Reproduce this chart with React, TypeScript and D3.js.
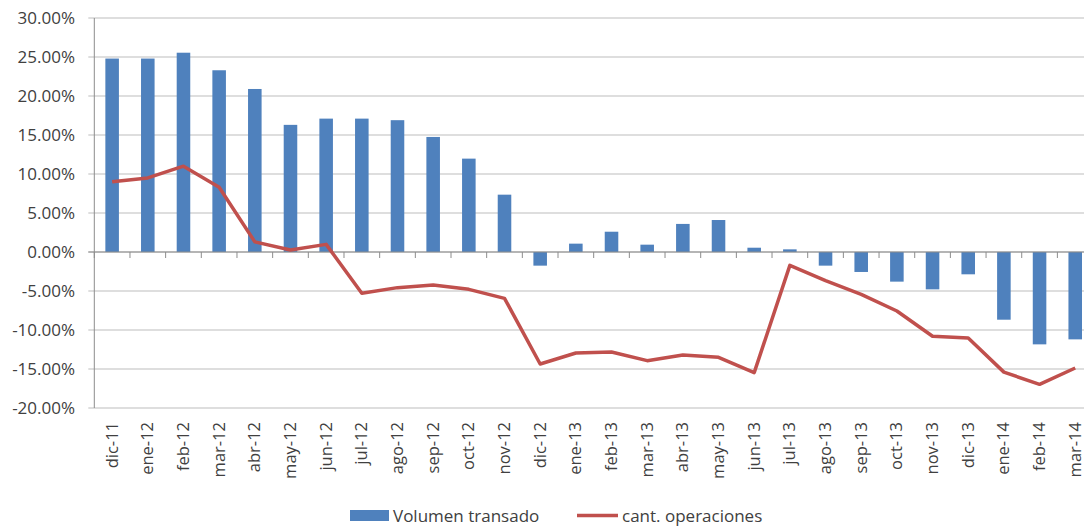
import { useEffect, useRef } from 'react';
import * as d3 from 'd3';

const MONTHS = [
  "dic-11", "ene-12", "feb-12", "mar-12", "abr-12", "may-12", "jun-12",
  "jul-12", "ago-12", "sep-12", "oct-12", "nov-12", "dic-12", "ene-13",
  "feb-13", "mar-13", "abr-13", "may-13", "jun-13", "jul-13", "ago-13",
  "sep-13", "oct-13", "nov-13", "dic-13", "ene-14", "feb-14", "mar-14",
];
// % variation
const VOLUMEN = [
  24.8, 24.8, 25.55, 23.3, 20.9, 16.3, 17.1,
  17.1, 16.9, 14.75, 11.97, 7.35, -1.75, 1.07,
  2.6, 0.94, 3.6, 4.1, 0.55, 0.34, -1.75,
  -2.56, -3.8, -4.79, -2.86, -8.68, -11.84, -11.2,
];
const OPERACIONES = [
  9.0, 9.5, 11.0, 8.3, 1.3, 0.25, 0.98,
  -5.3, -4.57, -4.23, -4.79, -5.94, -14.36, -12.95,
  -12.82, -13.93, -13.2, -13.5, -15.47, -1.71, -3.68,
  -5.43, -7.56, -10.8, -11.03, -15.4, -16.97, -14.87,
];
const Y_TICKS = [30, 25, 20, 15, 10, 5, 0, -5, -10, -15, -20];
const LEGEND = ["Volumen transado", "cant. operaciones"];

const BLUE = "#4f81bd";
const RED = "#c0504d";
const FONT = "'Open Sans', Lato, sans-serif";
const FS = "17px";

export default function App() {
  const svgRef = useRef<SVGSVGElement>(null);

  useEffect(() => {
    if (!svgRef.current) return;
    const svg = d3.select(svgRef.current);
    svg.selectAll("*").remove();

    const left = 94.3, right = 94.3 + 28 * 35.67;
    const x = d3.scaleBand().domain(MONTHS).range([left, right]).paddingInner(0.62).paddingOuter(0.31);
    const y = d3.scaleLinear().domain([-20, 30]).range([408, 18]);

    // gridlines
    svg.append("g").selectAll("line").data(Y_TICKS).join("line")
      .attr("x1", left - 6).attr("x2", right)
      .attr("y1", d => y(d)).attr("y2", d => y(d))
      .attr("stroke", "#bdbdbd").attr("stroke-width", 1);

    // y labels
    svg.append("g").selectAll("text").data(Y_TICKS).join("text")
      .attr("x", 75).attr("y", d => y(d) + 6)
      .attr("text-anchor", "end")
      .style("font-family", FONT).style("font-size", FS).style("fill", "#404040")
      .text(d => d.toFixed(2) + "%");

    // bars
    svg.append("g").selectAll("rect").data(VOLUMEN).join("rect")
      .attr("x", (_, i) => x(MONTHS[i])!)
      .attr("y", d => y(Math.max(0, d)))
      .attr("width", x.bandwidth())
      .attr("height", d => Math.abs(y(d) - y(0)))
      .attr("fill", BLUE);

    // axes
    svg.append("line").attr("x1", left).attr("x2", left).attr("y1", y(30)).attr("y2", y(-20))
      .attr("stroke", "#8c8c8c");
    svg.append("line").attr("x1", left - 6).attr("x2", right).attr("y1", y(0)).attr("y2", y(0))
      .attr("stroke", "#8c8c8c");
    svg.append("g").selectAll("line").data(d3.range(MONTHS.length + 1)).join("line")
      .attr("x1", i => left + i * x.step()).attr("x2", i => left + i * x.step())
      .attr("y1", y(0)).attr("y2", y(0) + 6)
      .attr("stroke", "#8c8c8c");

    // line
    const line = d3.line<number>()
      .x((_, i) => x(MONTHS[i])! + x.bandwidth() / 2)
      .y(d => y(d));
    svg.append("path").datum(OPERACIONES)
      .attr("d", line)
      .attr("fill", "none").attr("stroke", RED).attr("stroke-width", 3.5)
      .attr("stroke-linejoin", "round");

    // x labels
    svg.append("g").selectAll("text").data(MONTHS).join("text")
      .attr("transform", d => `translate(${x(d)! + x.bandwidth() / 2 + 5.5},422) rotate(-90)`)
      .attr("text-anchor", "end")
      .style("font-family", FONT).style("font-size", "16.5px").style("fill", "#404040")
      .text(d => d);

    // legend
    const lg = svg.append("g");
    lg.append("rect").attr("x", 350).attr("y", 510).attr("width", 39).attr("height", 11).attr("fill", BLUE);
    lg.append("text").attr("x", 393).attr("y", 522)
      .style("font-family", FONT).style("font-size", FS).style("fill", "#404040")
      .text(LEGEND[0]);
    lg.append("line").attr("x1", 577).attr("x2", 618).attr("y1", 515.5).attr("y2", 515.5)
      .attr("stroke", RED).attr("stroke-width", 3.5);
    lg.append("text").attr("x", 622).attr("y", 522)
      .style("font-family", FONT).style("font-size", FS).style("fill", "#404040")
      .text(LEGEND[1]);
  }, []);

  return (
    <div style={{ position: "absolute", left: 0, top: 0, width: 1084, height: 526, overflow: "hidden", background: "#fff" }}>
      <svg ref={svgRef} width={1084} height={526} />
    </div>
  );
}
